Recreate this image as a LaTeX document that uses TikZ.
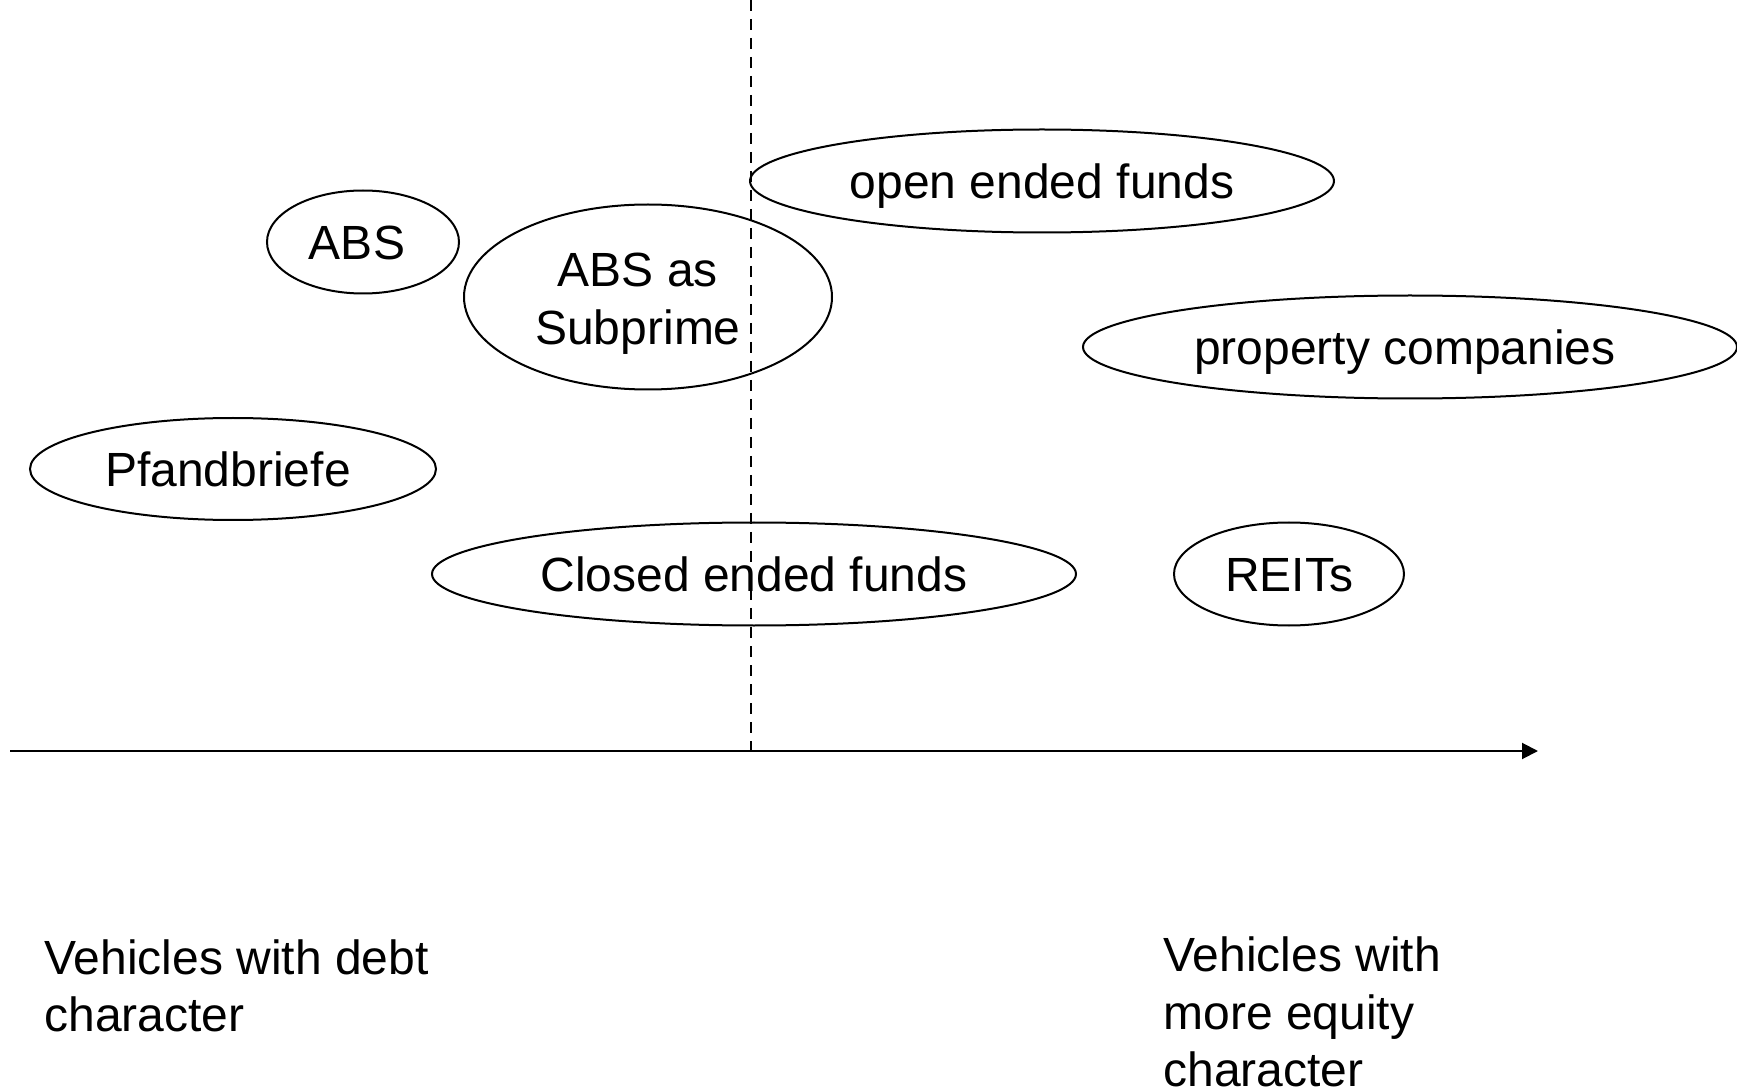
\documentclass[tikz,border=0pt]{standalone}
\usepackage{fontspec}
\setmainfont{Liberation Sans}
\usetikzlibrary{shapes.geometric,arrows.meta}
\begin{document}
\begin{tikzpicture}[x=0.5pt,y=-0.5pt,
  oval/.style={draw, ellipse, line width=1pt, inner sep=0pt,
    font=\fontsize{24}{28.8}\selectfont},
  oneline/.style={text height=17.2pt, text depth=0pt},
  inner/.style={inner sep=0pt, align=center,
    font=\fontsize{24}{28.8}\selectfont},
  caption/.style={inner sep=0pt, align=left, anchor=west,
    font=\fontsize{24}{28.8}\selectfont},
  divider/.style={line width=1pt, dash pattern=on 5.5pt off 4pt},
  axis/.style={line width=1pt, -{Triangle[length=8pt,width=8pt]}}]
\useasboundingbox (0,0) rectangle (1737,1091);

% vehicles
\node[oval, oneline, minimum width=292pt, minimum height=51.5pt] (open) at (1042,181) {open ended funds};
\node[oval, minimum width=96pt, minimum height=51.5pt] (abs) at (363,242) {};
\node[inner, oneline] (abstxt) at (357,242) {ABS};
\node[oval, minimum width=184pt, minimum height=92.5pt] (sub) at (648,297) {};
\node[inner] (subtxt) at (638,304) {ABS as\\Subprime};
\node[oval, minimum width=327pt, minimum height=51.5pt] (prop) at (1410,347) {};
\node[inner, oneline] (proptxt) at (1405,347) {property companies};
\node[oval, minimum width=203pt, minimum height=51pt] (pfand) at (233,469) {};
\node[inner, oneline] (pfandtxt) at (228,469) {Pfandbriefe};
\node[oval, oneline, minimum width=322pt, minimum height=51.5pt] (closed) at (754,574) {Closed ended funds};
\node[oval, oneline, minimum width=115pt, minimum height=51.5pt] (reits) at (1289,574) {REITs};

% horizontal axis and dividing line
\coordinate (axL) at (10,751);
\coordinate (axR) at (1538,751);
\coordinate (dtop) at (751,0);
\coordinate (dbot) at (751,751);
\draw[axis] (axL) -- (axR);
\draw[divider] (dtop) -- (dbot);

% end labels
\node[caption] (debt) at (44,986) {Vehicles with debt\\character};
\node[caption] (equity) at (1163,1012) {Vehicles with\\more equity\\character};
\end{tikzpicture}
\end{document}
